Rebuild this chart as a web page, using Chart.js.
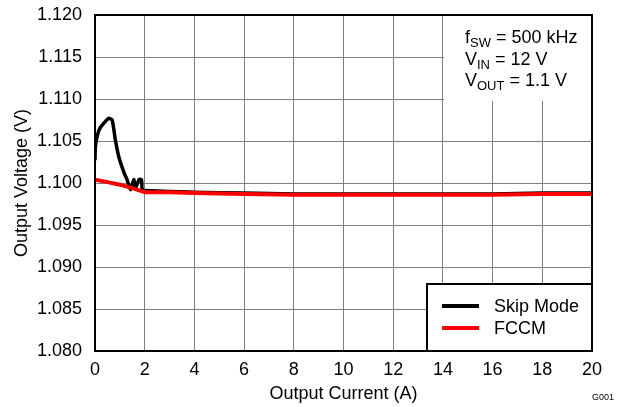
<!DOCTYPE html>
<html>
<head>
<meta charset="utf-8">
<script src="https://cdn.jsdelivr.net/npm/chart.js@4"></script>
<style>
  html, body { margin: 0; padding: 0; background: #fff; }
  #wrap { width: 623px; height: 407px; }
</style>
</head>
<body>
<div id="wrap"><canvas id="c" width="623" height="407"></canvas></div>
<script>
// Output current (A) and output voltage (V) for each operating mode
const skipCurrent = [0, 0.01, 0.04, 0.16, 0.32, 0.55, 0.69, 0.82, 0.96, 1.16, 1.29, 1.43, 1.56, 1.63, 1.77, 1.87, 1.90, 2, 3, 4, 6, 8, 10, 12, 14, 16, 18, 20];
const skipVoltage = [1.1027, 1.1040, 1.1049, 1.1063, 1.1070, 1.1077, 1.1075, 1.1051, 1.1031, 1.1013, 1.1004, 1.0992, 1.1004, 1.0994, 1.1004, 1.1004, 1.0992, 1.0991, 1.0990, 1.0989, 1.0988, 1.0987, 1.0987, 1.0987, 1.0987, 1.0987, 1.0988, 1.0988];

const fccmCurrent = [0, 0.5, 1, 1.5, 1.9, 2, 3, 4, 6, 8, 10, 11, 12, 14, 16, 18, 20];
const fccmVoltage = [1.1004, 1.1001, 1.0998, 1.0994, 1.0990, 1.0989, 1.0989, 1.0988, 1.0987, 1.0986, 1.0986, 1.0986, 1.0986, 1.0986, 1.0986, 1.0987, 1.0987];

const seriesNames = ['Skip Mode', 'FCCM'];
const seriesColors = ['#000000', '#ff0000'];

const xTicks = [0, 2, 4, 6, 8, 10, 12, 14, 16, 18, 20];
const yTicks = [1.080, 1.085, 1.090, 1.095, 1.100, 1.105, 1.110, 1.115, 1.120];

const conditionLines = [
  ['f', 'SW', ' = 500 kHz'],
  ['V', 'IN', ' = 12 V'],
  ['V', 'OUT', ' = 1.1 V']
];

const FONT = '"Liberation Sans", Arial, sans-serif';

function pts(xs, ys) { return xs.map((x, i) => ({ x: x, y: ys[i] })); }

// Conditions box (top right), legend box (bottom right), frame and figure id
const overlay = {
  id: 'overlay',
  beforeDatasetsDraw(chart) {
    const ctx = chart.ctx, a = chart.chartArea;
    ctx.save();
    ctx.fillStyle = '#fff';
    ctx.fillRect(a.right - 148, a.top, 148, 86);
    ctx.fillStyle = '#000';
    ctx.textBaseline = 'alphabetic';
    conditionLines.forEach((ln, i) => {
      let x = a.right - 127;
      const y = a.top + 28 + i * 21.5;
      ctx.font = '18px ' + FONT;
      ctx.fillText(ln[0], x, y);
      x += ctx.measureText(ln[0]).width;
      ctx.font = '13px ' + FONT;
      ctx.fillText(ln[1], x, y + 4);
      x += ctx.measureText(ln[1]).width;
      ctx.font = '18px ' + FONT;
      ctx.fillText(ln[2], x, y);
    });
    ctx.restore();
  },
  afterDraw(chart) {
    const ctx = chart.ctx, a = chart.chartArea;
    ctx.save();
    // legend
    const lx = a.right - 165, ly = a.bottom - 67;
    ctx.fillStyle = '#fff';
    ctx.fillRect(lx, ly, 165, 67);
    ctx.strokeStyle = '#000';
    ctx.lineWidth = 2;
    ctx.strokeRect(lx, ly, 165, 67);
    ctx.font = '18px ' + FONT;
    ctx.textBaseline = 'middle';
    seriesNames.forEach((name, i) => {
      const y = ly + 22 + i * 22;
      ctx.strokeStyle = seriesColors[i];
      ctx.lineWidth = 4;
      ctx.beginPath();
      ctx.moveTo(lx + 15, y);
      ctx.lineTo(lx + 52, y);
      ctx.stroke();
      ctx.fillStyle = '#000';
      ctx.fillText(name, lx + 67, y + 1);
    });
    // plot frame
    ctx.strokeStyle = '#000';
    ctx.lineWidth = 2;
    ctx.strokeRect(a.left, a.top, a.right - a.left, a.bottom - a.top);
    // figure id
    ctx.font = '9px ' + FONT;
    ctx.textBaseline = 'middle';
    ctx.fillText('G001', 592, 398);
    ctx.restore();
  }
};

new Chart(document.getElementById('c'), {
  type: 'scatter',
  data: {
    datasets: [
      {
        label: seriesNames[0],
        data: pts(skipCurrent, skipVoltage),
        showLine: true,
        borderColor: seriesColors[0],
        borderWidth: 3.5,
        pointRadius: 0,
        tension: 0.2,
        order: 1
      },
      {
        label: seriesNames[1],
        data: pts(fccmCurrent, fccmVoltage),
        showLine: true,
        borderColor: seriesColors[1],
        borderWidth: 4,
        pointRadius: 0,
        tension: 0,
        order: 0
      }
    ]
  },
  options: {
    responsive: false,
    animation: false,
    events: [],
    layout: { padding: { left: 0, right: 31, top: 15, bottom: 0 } },
    plugins: { legend: { display: false }, tooltip: { enabled: false } },
    scales: {
      x: {
        type: 'linear',
        min: 0, max: 20,
        afterBuildTicks(s) { s.ticks = xTicks.map(v => ({ value: v })); },
        afterFit(s) { s.height = 56; s.paddingLeft = 0; s.paddingRight = 0; },
        grid: { color: '#808080', lineWidth: 1, drawTicks: false },
        border: { display: false },
        ticks: { color: '#000', font: { family: FONT, size: 18 }, padding: 8, maxRotation: 0 },
        title: { display: true, text: 'Output Current (A)', color: '#000', font: { family: FONT, size: 18 }, padding: { top: 0, bottom: 2 } }
      },
      y: {
        type: 'linear',
        min: 1.080, max: 1.120,
        afterBuildTicks(s) { s.ticks = yTicks.map(v => ({ value: v })); },
        afterFit(s) { s.width = 95; s.paddingTop = 0; s.paddingBottom = 0; },
        grid: { color: '#808080', lineWidth: 1, drawTicks: false },
        border: { display: false },
        ticks: { color: '#000', font: { family: FONT, size: 18 }, padding: 13, callback: v => v.toFixed(3) },
        title: { display: true, text: 'Output Voltage (V)', color: '#000', font: { family: FONT, size: 18 }, padding: { top: 11, bottom: 0 } }
      }
    }
  },
  plugins: [overlay]
});
</script>
</body>
</html>
